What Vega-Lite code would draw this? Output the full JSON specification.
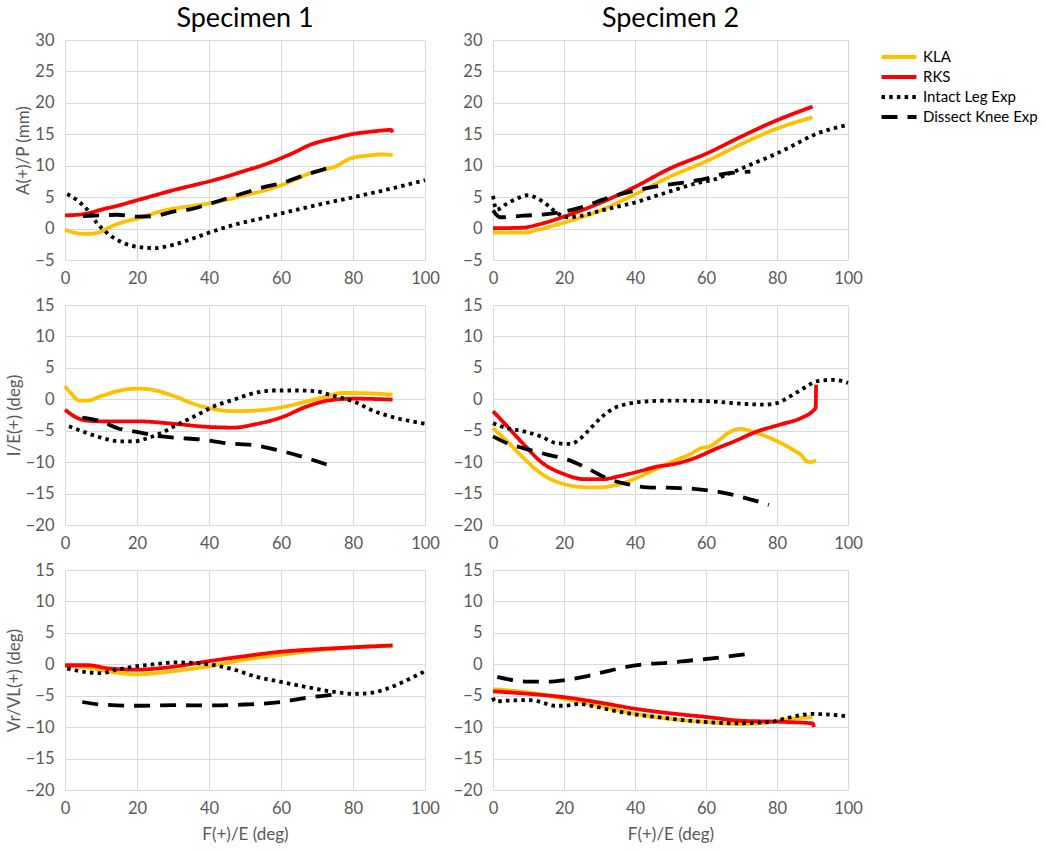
{
  "$schema": "https://vega.github.io/schema/vega-lite/v6.json",
  "background": "white",
  "data": {"values": [
    {"p":"1a","s":"KLA","x":0,"y":-0.2},{"p":"1a","s":"KLA","x":3,"y":-0.7},{"p":"1a","s":"KLA","x":6.2,"y":-0.86},{"p":"1a","s":"KLA","x":10,"y":-0.5},{"p":"1a","s":"KLA","x":12.7,"y":0.3},{"p":"1a","s":"KLA","x":16,"y":1.0},{"p":"1a","s":"KLA","x":20,"y":1.6},{"p":"1a","s":"KLA","x":28.5,"y":3.0},{"p":"1a","s":"KLA","x":34,"y":3.5},{"p":"1a","s":"KLA","x":40,"y":4.0},{"p":"1a","s":"KLA","x":45,"y":4.6},{"p":"1a","s":"KLA","x":50,"y":5.3},{"p":"1a","s":"KLA","x":55,"y":6.0},{"p":"1a","s":"KLA","x":60,"y":6.9},{"p":"1a","s":"KLA","x":64,"y":7.8},{"p":"1a","s":"KLA","x":68,"y":8.8},{"p":"1a","s":"KLA","x":72,"y":9.4},{"p":"1a","s":"KLA","x":75,"y":9.85},{"p":"1a","s":"KLA","x":79.5,"y":11.2},{"p":"1a","s":"KLA","x":84,"y":11.6},{"p":"1a","s":"KLA","x":88,"y":11.8},{"p":"1a","s":"KLA","x":91,"y":11.7},
    {"p":"1a","s":"RKS","x":0,"y":2.1},{"p":"1a","s":"RKS","x":5.3,"y":2.3},{"p":"1a","s":"RKS","x":10,"y":3.0},{"p":"1a","s":"RKS","x":15,"y":3.7},{"p":"1a","s":"RKS","x":20,"y":4.5},{"p":"1a","s":"RKS","x":25,"y":5.3},{"p":"1a","s":"RKS","x":30,"y":6.1},{"p":"1a","s":"RKS","x":35,"y":6.8},{"p":"1a","s":"RKS","x":40,"y":7.5},{"p":"1a","s":"RKS","x":45,"y":8.3},{"p":"1a","s":"RKS","x":50,"y":9.2},{"p":"1a","s":"RKS","x":55,"y":10.1},{"p":"1a","s":"RKS","x":60,"y":11.2},{"p":"1a","s":"RKS","x":64,"y":12.2},{"p":"1a","s":"RKS","x":68,"y":13.3},{"p":"1a","s":"RKS","x":72,"y":14.0},{"p":"1a","s":"RKS","x":75,"y":14.4},{"p":"1a","s":"RKS","x":80,"y":15.05},{"p":"1a","s":"RKS","x":84,"y":15.35},{"p":"1a","s":"RKS","x":88,"y":15.6},{"p":"1a","s":"RKS","x":90.5,"y":15.7},{"p":"1a","s":"RKS","x":91,"y":15.3},
    {"p":"1a","s":"Dissect Knee Exp","x":5,"y":2.0},{"p":"1a","s":"Dissect Knee Exp","x":10,"y":2.1},{"p":"1a","s":"Dissect Knee Exp","x":14.5,"y":2.2},{"p":"1a","s":"Dissect Knee Exp","x":20,"y":1.9},{"p":"1a","s":"Dissect Knee Exp","x":25,"y":2.0},{"p":"1a","s":"Dissect Knee Exp","x":30,"y":2.7},{"p":"1a","s":"Dissect Knee Exp","x":35,"y":3.1},{"p":"1a","s":"Dissect Knee Exp","x":40,"y":3.9},{"p":"1a","s":"Dissect Knee Exp","x":45,"y":4.8},{"p":"1a","s":"Dissect Knee Exp","x":50,"y":5.7},{"p":"1a","s":"Dissect Knee Exp","x":56,"y":6.7},{"p":"1a","s":"Dissect Knee Exp","x":60,"y":7.2},{"p":"1a","s":"Dissect Knee Exp","x":65.5,"y":8.3},{"p":"1a","s":"Dissect Knee Exp","x":70,"y":9.1},{"p":"1a","s":"Dissect Knee Exp","x":75,"y":10.0},
    {"p":"1a","s":"Intact Leg Exp","x":0.6,"y":5.5},{"p":"1a","s":"Intact Leg Exp","x":3.4,"y":4.5},{"p":"1a","s":"Intact Leg Exp","x":6.2,"y":3.0},{"p":"1a","s":"Intact Leg Exp","x":9,"y":0.8},{"p":"1a","s":"Intact Leg Exp","x":11.8,"y":-0.75},{"p":"1a","s":"Intact Leg Exp","x":15.5,"y":-2.1},{"p":"1a","s":"Intact Leg Exp","x":20,"y":-2.9},{"p":"1a","s":"Intact Leg Exp","x":24.7,"y":-3.1},{"p":"1a","s":"Intact Leg Exp","x":30,"y":-2.6},{"p":"1a","s":"Intact Leg Exp","x":35.9,"y":-1.5},{"p":"1a","s":"Intact Leg Exp","x":40,"y":-0.65},{"p":"1a","s":"Intact Leg Exp","x":47,"y":0.6},{"p":"1a","s":"Intact Leg Exp","x":54.4,"y":1.6},{"p":"1a","s":"Intact Leg Exp","x":60,"y":2.4},{"p":"1a","s":"Intact Leg Exp","x":70,"y":3.75},{"p":"1a","s":"Intact Leg Exp","x":79.4,"y":4.9},{"p":"1a","s":"Intact Leg Exp","x":88.7,"y":6.1},{"p":"1a","s":"Intact Leg Exp","x":100,"y":7.7},

    {"p":"2a","s":"KLA","x":0,"y":-0.65},{"p":"2a","s":"KLA","x":8.7,"y":-0.65},{"p":"2a","s":"KLA","x":12.5,"y":-0.2},{"p":"2a","s":"KLA","x":20,"y":0.95},{"p":"2a","s":"KLA","x":29.4,"y":2.7},{"p":"2a","s":"KLA","x":39.7,"y":5.35},{"p":"2a","s":"KLA","x":50,"y":8.3},{"p":"2a","s":"KLA","x":60.4,"y":10.8},{"p":"2a","s":"KLA","x":69.8,"y":13.4},{"p":"2a","s":"KLA","x":79,"y":15.7},{"p":"2a","s":"KLA","x":90,"y":17.7},
    {"p":"2a","s":"RKS","x":0,"y":0.05},{"p":"2a","s":"RKS","x":8.7,"y":0.15},{"p":"2a","s":"RKS","x":12.5,"y":0.6},{"p":"2a","s":"RKS","x":20,"y":1.9},{"p":"2a","s":"RKS","x":29.4,"y":3.9},{"p":"2a","s":"RKS","x":39.7,"y":6.55},{"p":"2a","s":"RKS","x":50,"y":9.6},{"p":"2a","s":"RKS","x":60.4,"y":12.0},{"p":"2a","s":"RKS","x":69.8,"y":14.6},{"p":"2a","s":"RKS","x":79,"y":17.0},{"p":"2a","s":"RKS","x":90,"y":19.4},
    {"p":"2a","s":"Dissect Knee Exp","x":0,"y":2.9},{"p":"2a","s":"Dissect Knee Exp","x":2,"y":1.8},{"p":"2a","s":"Dissect Knee Exp","x":8.7,"y":2.05},{"p":"2a","s":"Dissect Knee Exp","x":15.3,"y":2.3},{"p":"2a","s":"Dissect Knee Exp","x":20,"y":2.7},{"p":"2a","s":"Dissect Knee Exp","x":25.6,"y":3.5},{"p":"2a","s":"Dissect Knee Exp","x":32,"y":4.8},{"p":"2a","s":"Dissect Knee Exp","x":39.7,"y":6.0},{"p":"2a","s":"Dissect Knee Exp","x":46,"y":6.7},{"p":"2a","s":"Dissect Knee Exp","x":55.7,"y":7.5},{"p":"2a","s":"Dissect Knee Exp","x":60.4,"y":8.0},{"p":"2a","s":"Dissect Knee Exp","x":65,"y":8.7},{"p":"2a","s":"Dissect Knee Exp","x":72.5,"y":9.05},
    {"p":"2a","s":"Intact Leg Exp","x":0,"y":5.2},{"p":"2a","s":"Intact Leg Exp","x":1,"y":3.0},{"p":"2a","s":"Intact Leg Exp","x":4,"y":4.0},{"p":"2a","s":"Intact Leg Exp","x":6.9,"y":4.8},{"p":"2a","s":"Intact Leg Exp","x":9.7,"y":5.3},{"p":"2a","s":"Intact Leg Exp","x":12.5,"y":4.8},{"p":"2a","s":"Intact Leg Exp","x":15.3,"y":3.75},{"p":"2a","s":"Intact Leg Exp","x":18,"y":2.5},{"p":"2a","s":"Intact Leg Exp","x":21,"y":1.8},{"p":"2a","s":"Intact Leg Exp","x":24.7,"y":2.0},{"p":"2a","s":"Intact Leg Exp","x":29.4,"y":2.7},{"p":"2a","s":"Intact Leg Exp","x":35,"y":3.5},{"p":"2a","s":"Intact Leg Exp","x":39.7,"y":4.1},{"p":"2a","s":"Intact Leg Exp","x":45.3,"y":5.1},{"p":"2a","s":"Intact Leg Exp","x":50.9,"y":6.1},{"p":"2a","s":"Intact Leg Exp","x":56.6,"y":7.1},{"p":"2a","s":"Intact Leg Exp","x":62.3,"y":7.8},{"p":"2a","s":"Intact Leg Exp","x":67.9,"y":9.05},{"p":"2a","s":"Intact Leg Exp","x":73.5,"y":10.4},{"p":"2a","s":"Intact Leg Exp","x":79,"y":11.7},{"p":"2a","s":"Intact Leg Exp","x":84.8,"y":13.3},{"p":"2a","s":"Intact Leg Exp","x":90.4,"y":14.9},{"p":"2a","s":"Intact Leg Exp","x":100,"y":16.5},

    {"p":"1b","s":"KLA","x":0,"y":2.1},{"p":"1b","s":"KLA","x":2,"y":0.75},{"p":"1b","s":"KLA","x":3.9,"y":-0.2},{"p":"1b","s":"KLA","x":6.2,"y":-0.2},{"p":"1b","s":"KLA","x":10,"y":0.5},{"p":"1b","s":"KLA","x":14.6,"y":1.3},{"p":"1b","s":"KLA","x":20,"y":1.7},{"p":"1b","s":"KLA","x":23.8,"y":1.55},{"p":"1b","s":"KLA","x":30.3,"y":0.5},{"p":"1b","s":"KLA","x":35.9,"y":-0.75},{"p":"1b","s":"KLA","x":40,"y":-1.4},{"p":"1b","s":"KLA","x":47,"y":-1.9},{"p":"1b","s":"KLA","x":52.6,"y":-1.8},{"p":"1b","s":"KLA","x":60,"y":-1.3},{"p":"1b","s":"KLA","x":67.4,"y":-0.3},{"p":"1b","s":"KLA","x":73,"y":0.5},{"p":"1b","s":"KLA","x":76.6,"y":1.0},{"p":"1b","s":"KLA","x":80,"y":1.0},{"p":"1b","s":"KLA","x":91,"y":0.75},
    {"p":"1b","s":"RKS","x":0,"y":-1.65},{"p":"1b","s":"RKS","x":2.5,"y":-2.7},{"p":"1b","s":"RKS","x":6.2,"y":-3.4},{"p":"1b","s":"RKS","x":10,"y":-3.5},{"p":"1b","s":"RKS","x":20,"y":-3.5},{"p":"1b","s":"RKS","x":30.3,"y":-3.9},{"p":"1b","s":"RKS","x":40,"y":-4.4},{"p":"1b","s":"RKS","x":47,"y":-4.5},{"p":"1b","s":"RKS","x":52.6,"y":-4.0},{"p":"1b","s":"RKS","x":60,"y":-2.9},{"p":"1b","s":"RKS","x":67.4,"y":-1.1},{"p":"1b","s":"RKS","x":73,"y":-0.2},{"p":"1b","s":"RKS","x":80,"y":0.1},{"p":"1b","s":"RKS","x":91,"y":-0.05},
    {"p":"1b","s":"Dissect Knee Exp","x":4.8,"y":-2.9},{"p":"1b","s":"Dissect Knee Exp","x":10,"y":-3.5},{"p":"1b","s":"Dissect Knee Exp","x":14.6,"y":-4.6},{"p":"1b","s":"Dissect Knee Exp","x":20,"y":-5.2},{"p":"1b","s":"Dissect Knee Exp","x":25.7,"y":-5.8},{"p":"1b","s":"Dissect Knee Exp","x":30.3,"y":-6.1},{"p":"1b","s":"Dissect Knee Exp","x":37.7,"y":-6.4},{"p":"1b","s":"Dissect Knee Exp","x":45,"y":-7.0},{"p":"1b","s":"Dissect Knee Exp","x":52.6,"y":-7.3},{"p":"1b","s":"Dissect Knee Exp","x":60,"y":-8.2},{"p":"1b","s":"Dissect Knee Exp","x":67.4,"y":-9.4},{"p":"1b","s":"Dissect Knee Exp","x":74.8,"y":-10.8},
    {"p":"1b","s":"Intact Leg Exp","x":1.1,"y":-4.3},{"p":"1b","s":"Intact Leg Exp","x":5.3,"y":-5.2},{"p":"1b","s":"Intact Leg Exp","x":10,"y":-6.1},{"p":"1b","s":"Intact Leg Exp","x":15.5,"y":-6.7},{"p":"1b","s":"Intact Leg Exp","x":19.2,"y":-6.7},{"p":"1b","s":"Intact Leg Exp","x":22.9,"y":-6.2},{"p":"1b","s":"Intact Leg Exp","x":26.6,"y":-5.4},{"p":"1b","s":"Intact Leg Exp","x":30.3,"y":-4.3},{"p":"1b","s":"Intact Leg Exp","x":34,"y":-3.25},{"p":"1b","s":"Intact Leg Exp","x":37.7,"y":-2.2},{"p":"1b","s":"Intact Leg Exp","x":41.4,"y":-1.1},{"p":"1b","s":"Intact Leg Exp","x":47,"y":-0.05},{"p":"1b","s":"Intact Leg Exp","x":52.6,"y":1.0},{"p":"1b","s":"Intact Leg Exp","x":58.1,"y":1.4},{"p":"1b","s":"Intact Leg Exp","x":63.7,"y":1.4},{"p":"1b","s":"Intact Leg Exp","x":69.2,"y":1.3},{"p":"1b","s":"Intact Leg Exp","x":74.8,"y":0.5},{"p":"1b","s":"Intact Leg Exp","x":80,"y":-0.3},{"p":"1b","s":"Intact Leg Exp","x":85.9,"y":-1.9},{"p":"1b","s":"Intact Leg Exp","x":91.5,"y":-2.9},{"p":"1b","s":"Intact Leg Exp","x":100,"y":-3.9},

    {"p":"2b","s":"KLA","x":0,"y":-4.6},{"p":"2b","s":"KLA","x":4,"y":-6.7},{"p":"2b","s":"KLA","x":8.7,"y":-9.4},{"p":"2b","s":"KLA","x":13.4,"y":-11.75},{"p":"2b","s":"KLA","x":20,"y":-13.5},{"p":"2b","s":"KLA","x":26.6,"y":-14.0},{"p":"2b","s":"KLA","x":30.3,"y":-14.0},{"p":"2b","s":"KLA","x":35,"y":-13.6},{"p":"2b","s":"KLA","x":39.7,"y":-12.7},{"p":"2b","s":"KLA","x":44.4,"y":-11.5},{"p":"2b","s":"KLA","x":51,"y":-9.8},{"p":"2b","s":"KLA","x":56,"y":-8.6},{"p":"2b","s":"KLA","x":58.5,"y":-7.8},{"p":"2b","s":"KLA","x":61,"y":-7.5},{"p":"2b","s":"KLA","x":63.2,"y":-6.7},{"p":"2b","s":"KLA","x":67,"y":-5.1},{"p":"2b","s":"KLA","x":69.8,"y":-4.7},{"p":"2b","s":"KLA","x":73.5,"y":-5.2},{"p":"2b","s":"KLA","x":78.2,"y":-6.2},{"p":"2b","s":"KLA","x":82.9,"y":-7.5},{"p":"2b","s":"KLA","x":85,"y":-8.2},{"p":"2b","s":"KLA","x":86.7,"y":-8.8},{"p":"2b","s":"KLA","x":88.5,"y":-9.9},{"p":"2b","s":"KLA","x":89.5,"y":-10.0},{"p":"2b","s":"KLA","x":91,"y":-9.7},
    {"p":"2b","s":"RKS","x":0,"y":-1.9},{"p":"2b","s":"RKS","x":4,"y":-4.3},{"p":"2b","s":"RKS","x":8.7,"y":-7.2},{"p":"2b","s":"RKS","x":13.4,"y":-9.9},{"p":"2b","s":"RKS","x":20,"y":-11.9},{"p":"2b","s":"RKS","x":25.6,"y":-12.7},{"p":"2b","s":"RKS","x":31.3,"y":-12.7},{"p":"2b","s":"RKS","x":35,"y":-12.3},{"p":"2b","s":"RKS","x":41.6,"y":-11.4},{"p":"2b","s":"RKS","x":46.3,"y":-10.7},{"p":"2b","s":"RKS","x":51,"y":-10.3},{"p":"2b","s":"RKS","x":56.6,"y":-9.4},{"p":"2b","s":"RKS","x":62.3,"y":-8.0},{"p":"2b","s":"RKS","x":67.9,"y":-6.7},{"p":"2b","s":"RKS","x":74.5,"y":-5.1},{"p":"2b","s":"RKS","x":81,"y":-4.0},{"p":"2b","s":"RKS","x":86.7,"y":-3.0},{"p":"2b","s":"RKS","x":90,"y":-1.9},{"p":"2b","s":"RKS","x":90.9,"y":-1.3},{"p":"2b","s":"RKS","x":91,"y":2.3},
    {"p":"2b","s":"Dissect Knee Exp","x":0,"y":-5.9},{"p":"2b","s":"Dissect Knee Exp","x":4,"y":-7.0},{"p":"2b","s":"Dissect Knee Exp","x":8.7,"y":-7.8},{"p":"2b","s":"Dissect Knee Exp","x":15.3,"y":-8.8},{"p":"2b","s":"Dissect Knee Exp","x":21,"y":-9.6},{"p":"2b","s":"Dissect Knee Exp","x":26.6,"y":-11.0},{"p":"2b","s":"Dissect Knee Exp","x":32.2,"y":-12.6},{"p":"2b","s":"Dissect Knee Exp","x":37.8,"y":-13.5},{"p":"2b","s":"Dissect Knee Exp","x":43.5,"y":-14.0},{"p":"2b","s":"Dissect Knee Exp","x":51,"y":-14.1},{"p":"2b","s":"Dissect Knee Exp","x":56.6,"y":-14.25},{"p":"2b","s":"Dissect Knee Exp","x":63.2,"y":-14.7},{"p":"2b","s":"Dissect Knee Exp","x":69.8,"y":-15.5},{"p":"2b","s":"Dissect Knee Exp","x":77.7,"y":-16.8},
    {"p":"2b","s":"Intact Leg Exp","x":0,"y":-3.8},{"p":"2b","s":"Intact Leg Exp","x":4,"y":-4.6},{"p":"2b","s":"Intact Leg Exp","x":8.7,"y":-5.1},{"p":"2b","s":"Intact Leg Exp","x":13.4,"y":-5.9},{"p":"2b","s":"Intact Leg Exp","x":18.1,"y":-7.0},{"p":"2b","s":"Intact Leg Exp","x":21.9,"y":-7.1},{"p":"2b","s":"Intact Leg Exp","x":24.7,"y":-6.2},{"p":"2b","s":"Intact Leg Exp","x":27.5,"y":-4.6},{"p":"2b","s":"Intact Leg Exp","x":30.3,"y":-3.0},{"p":"2b","s":"Intact Leg Exp","x":34.1,"y":-1.4},{"p":"2b","s":"Intact Leg Exp","x":37.8,"y":-0.75},{"p":"2b","s":"Intact Leg Exp","x":41.6,"y":-0.4},{"p":"2b","s":"Intact Leg Exp","x":51,"y":-0.2},{"p":"2b","s":"Intact Leg Exp","x":60.4,"y":-0.3},{"p":"2b","s":"Intact Leg Exp","x":69.8,"y":-0.7},{"p":"2b","s":"Intact Leg Exp","x":76.4,"y":-0.85},{"p":"2b","s":"Intact Leg Exp","x":80,"y":-0.6},{"p":"2b","s":"Intact Leg Exp","x":83.8,"y":0.5},{"p":"2b","s":"Intact Leg Exp","x":87.6,"y":1.8},{"p":"2b","s":"Intact Leg Exp","x":91.4,"y":2.9},{"p":"2b","s":"Intact Leg Exp","x":96,"y":3.1},{"p":"2b","s":"Intact Leg Exp","x":100,"y":2.6},

    {"p":"1c","s":"KLA","x":0,"y":-0.3},{"p":"1c","s":"KLA","x":6.2,"y":-0.5},{"p":"1c","s":"KLA","x":12.7,"y":-1.2},{"p":"1c","s":"KLA","x":20,"y":-1.6},{"p":"1c","s":"KLA","x":28.5,"y":-1.2},{"p":"1c","s":"KLA","x":40,"y":-0.3},{"p":"1c","s":"KLA","x":50,"y":0.75},{"p":"1c","s":"KLA","x":60,"y":1.5},{"p":"1c","s":"KLA","x":70,"y":2.2},{"p":"1c","s":"KLA","x":80,"y":2.7},{"p":"1c","s":"KLA","x":91,"y":2.95},
    {"p":"1c","s":"RKS","x":0,"y":-0.15},{"p":"1c","s":"RKS","x":6.2,"y":-0.15},{"p":"1c","s":"RKS","x":12.7,"y":-0.7},{"p":"1c","s":"RKS","x":20,"y":-0.85},{"p":"1c","s":"RKS","x":28.5,"y":-0.5},{"p":"1c","s":"RKS","x":40,"y":0.5},{"p":"1c","s":"RKS","x":50,"y":1.3},{"p":"1c","s":"RKS","x":60,"y":2.0},{"p":"1c","s":"RKS","x":70,"y":2.4},{"p":"1c","s":"RKS","x":80,"y":2.7},{"p":"1c","s":"RKS","x":91,"y":3.0},
    {"p":"1c","s":"Dissect Knee Exp","x":4.8,"y":-6.0},{"p":"1c","s":"Dissect Knee Exp","x":10,"y":-6.4},{"p":"1c","s":"Dissect Knee Exp","x":20,"y":-6.6},{"p":"1c","s":"Dissect Knee Exp","x":30.3,"y":-6.5},{"p":"1c","s":"Dissect Knee Exp","x":40,"y":-6.55},{"p":"1c","s":"Dissect Knee Exp","x":50,"y":-6.4},{"p":"1c","s":"Dissect Knee Exp","x":60,"y":-6.0},{"p":"1c","s":"Dissect Knee Exp","x":67.4,"y":-5.3},{"p":"1c","s":"Dissect Knee Exp","x":74.8,"y":-4.8},{"p":"1c","s":"Dissect Knee Exp","x":76,"y":-4.7},
    {"p":"1c","s":"Intact Leg Exp","x":0.6,"y":-0.7},{"p":"1c","s":"Intact Leg Exp","x":5.3,"y":-1.2},{"p":"1c","s":"Intact Leg Exp","x":10,"y":-1.4},{"p":"1c","s":"Intact Leg Exp","x":14.6,"y":-0.85},{"p":"1c","s":"Intact Leg Exp","x":20,"y":-0.3},{"p":"1c","s":"Intact Leg Exp","x":25.7,"y":0.05},{"p":"1c","s":"Intact Leg Exp","x":30.3,"y":0.3},{"p":"1c","s":"Intact Leg Exp","x":35.9,"y":0.2},{"p":"1c","s":"Intact Leg Exp","x":41.4,"y":-0.15},{"p":"1c","s":"Intact Leg Exp","x":47,"y":-0.85},{"p":"1c","s":"Intact Leg Exp","x":52.6,"y":-1.9},{"p":"1c","s":"Intact Leg Exp","x":60,"y":-2.8},{"p":"1c","s":"Intact Leg Exp","x":67.4,"y":-3.65},{"p":"1c","s":"Intact Leg Exp","x":74.8,"y":-4.4},{"p":"1c","s":"Intact Leg Exp","x":80,"y":-4.7},{"p":"1c","s":"Intact Leg Exp","x":85,"y":-4.55},{"p":"1c","s":"Intact Leg Exp","x":89.6,"y":-3.85},{"p":"1c","s":"Intact Leg Exp","x":94.3,"y":-2.7},{"p":"1c","s":"Intact Leg Exp","x":100,"y":-1.1},

    {"p":"2c","s":"KLA","x":0,"y":-3.95},{"p":"2c","s":"KLA","x":10,"y":-4.5},{"p":"2c","s":"KLA","x":20.3,"y":-5.5},{"p":"2c","s":"KLA","x":29.6,"y":-6.6},{"p":"2c","s":"KLA","x":40.3,"y":-7.9},{"p":"2c","s":"KLA","x":50,"y":-8.7},{"p":"2c","s":"KLA","x":60.3,"y":-9.2},{"p":"2c","s":"KLA","x":70.5,"y":-9.5},{"p":"2c","s":"KLA","x":78,"y":-9.2},{"p":"2c","s":"KLA","x":83.5,"y":-8.7},{"p":"2c","s":"KLA","x":90,"y":-8.4},
    {"p":"2c","s":"RKS","x":0,"y":-4.3},{"p":"2c","s":"RKS","x":10,"y":-4.7},{"p":"2c","s":"RKS","x":20.3,"y":-5.25},{"p":"2c","s":"RKS","x":29.6,"y":-6.05},{"p":"2c","s":"RKS","x":40.3,"y":-7.1},{"p":"2c","s":"RKS","x":50,"y":-7.8},{"p":"2c","s":"RKS","x":60.3,"y":-8.4},{"p":"2c","s":"RKS","x":70.5,"y":-9.0},{"p":"2c","s":"RKS","x":78,"y":-9.1},{"p":"2c","s":"RKS","x":83.5,"y":-9.2},{"p":"2c","s":"RKS","x":90,"y":-9.4},{"p":"2c","s":"RKS","x":90.4,"y":-10.0},
    {"p":"2c","s":"Dissect Knee Exp","x":1.2,"y":-2.0},{"p":"2c","s":"Dissect Knee Exp","x":5.4,"y":-2.5},{"p":"2c","s":"Dissect Knee Exp","x":10,"y":-2.75},{"p":"2c","s":"Dissect Knee Exp","x":15.6,"y":-2.75},{"p":"2c","s":"Dissect Knee Exp","x":20.3,"y":-2.5},{"p":"2c","s":"Dissect Knee Exp","x":25.9,"y":-1.95},{"p":"2c","s":"Dissect Knee Exp","x":31.4,"y":-1.2},{"p":"2c","s":"Dissect Knee Exp","x":37,"y":-0.5},{"p":"2c","s":"Dissect Knee Exp","x":42.6,"y":0.0},{"p":"2c","s":"Dissect Knee Exp","x":50,"y":0.25},{"p":"2c","s":"Dissect Knee Exp","x":55.6,"y":0.6},{"p":"2c","s":"Dissect Knee Exp","x":61.2,"y":0.9},{"p":"2c","s":"Dissect Knee Exp","x":66.8,"y":1.3},{"p":"2c","s":"Dissect Knee Exp","x":72.4,"y":1.7},
    {"p":"2c","s":"Intact Leg Exp","x":0,"y":-5.3},{"p":"2c","s":"Intact Leg Exp","x":0.5,"y":-5.9},{"p":"2c","s":"Intact Leg Exp","x":3.5,"y":-5.8},{"p":"2c","s":"Intact Leg Exp","x":10,"y":-5.7},{"p":"2c","s":"Intact Leg Exp","x":12.8,"y":-5.9},{"p":"2c","s":"Intact Leg Exp","x":17.5,"y":-6.6},{"p":"2c","s":"Intact Leg Exp","x":20.3,"y":-6.6},{"p":"2c","s":"Intact Leg Exp","x":24,"y":-6.3},{"p":"2c","s":"Intact Leg Exp","x":27.7,"y":-6.6},{"p":"2c","s":"Intact Leg Exp","x":33.3,"y":-7.3},{"p":"2c","s":"Intact Leg Exp","x":40.3,"y":-8.0},{"p":"2c","s":"Intact Leg Exp","x":46.3,"y":-8.4},{"p":"2c","s":"Intact Leg Exp","x":54.7,"y":-8.95},{"p":"2c","s":"Intact Leg Exp","x":60.3,"y":-9.2},{"p":"2c","s":"Intact Leg Exp","x":68.7,"y":-9.4},{"p":"2c","s":"Intact Leg Exp","x":74.3,"y":-9.3},{"p":"2c","s":"Intact Leg Exp","x":78,"y":-9.2},{"p":"2c","s":"Intact Leg Exp","x":81.9,"y":-8.7},{"p":"2c","s":"Intact Leg Exp","x":85.6,"y":-8.2},{"p":"2c","s":"Intact Leg Exp","x":90,"y":-7.9},{"p":"2c","s":"Intact Leg Exp","x":94.7,"y":-8.0},{"p":"2c","s":"Intact Leg Exp","x":100,"y":-8.3}
  ]},

  "columns": 2,
  "spacing": {"row": 10, "column": 13},
  "concat": [
    {
      "width": 360, "height": 220,
      "title": {"text": "Specimen 1"},
      "transform": [{"filter": "datum.p == '1a'"}],
      "mark": {"type": "line", "strokeWidth": 3.8, "strokeCap": "butt", "interpolate": "monotone"},
      "encoding": {
        "x": {"field": "x", "type": "quantitative", "scale": {"domain": [0, 100]}, "axis": {"values": [0, 20, 40, 60, 80, 100], "title": null}},
        "y": {"field": "y", "type": "quantitative", "scale": {"domain": [-5, 30]}, "axis": {"values": [-5, 0, 5, 10, 15, 20, 25, 30], "title": "A(+)/P (mm)"}},
        "color": {"field": "s", "type": "nominal", "scale": {"domain": ["KLA", "RKS", "Intact Leg Exp", "Dissect Knee Exp"], "range": ["#FFC000", "#FF0000", "#000000", "#000000"]}},
        "strokeDash": {"field": "s", "type": "nominal", "scale": {"domain": ["KLA", "RKS", "Intact Leg Exp", "Dissect Knee Exp"], "range": [[1, 0], [1, 0], [3.5, 4.2], [16, 10]]}}
      }
    },
    {
      "width": 355, "height": 220,
      "title": {"text": "Specimen 2"},
      "transform": [{"filter": "datum.p == '2a'"}],
      "mark": {"type": "line", "strokeWidth": 3.8, "strokeCap": "butt", "interpolate": "monotone"},
      "encoding": {
        "x": {"field": "x", "type": "quantitative", "scale": {"domain": [0, 100]}, "axis": {"values": [0, 20, 40, 60, 80, 100], "title": null}},
        "y": {"field": "y", "type": "quantitative", "scale": {"domain": [-5, 30]}, "axis": {"values": [-5, 0, 5, 10, 15, 20, 25, 30], "title": null}},
        "color": {"field": "s", "type": "nominal", "scale": {"domain": ["KLA", "RKS", "Intact Leg Exp", "Dissect Knee Exp"], "range": ["#FFC000", "#FF0000", "#000000", "#000000"]}},
        "strokeDash": {"field": "s", "type": "nominal", "scale": {"domain": ["KLA", "RKS", "Intact Leg Exp", "Dissect Knee Exp"], "range": [[1, 0], [1, 0], [3.5, 4.2], [16, 10]]}}
      }
    },
    {
      "width": 360, "height": 220,
      "transform": [{"filter": "datum.p == '1b'"}],
      "mark": {"type": "line", "strokeWidth": 3.8, "strokeCap": "butt", "interpolate": "monotone"},
      "encoding": {
        "x": {"field": "x", "type": "quantitative", "scale": {"domain": [0, 100]}, "axis": {"values": [0, 20, 40, 60, 80, 100], "title": null}},
        "y": {"field": "y", "type": "quantitative", "scale": {"domain": [-20, 15]}, "axis": {"values": [-20, -15, -10, -5, 0, 5, 10, 15], "title": "I/E(+) (deg)"}},
        "color": {"field": "s", "type": "nominal", "scale": {"domain": ["KLA", "RKS", "Intact Leg Exp", "Dissect Knee Exp"], "range": ["#FFC000", "#FF0000", "#000000", "#000000"]}},
        "strokeDash": {"field": "s", "type": "nominal", "scale": {"domain": ["KLA", "RKS", "Intact Leg Exp", "Dissect Knee Exp"], "range": [[1, 0], [1, 0], [3.5, 4.2], [16, 10]]}}
      }
    },
    {
      "width": 355, "height": 220,
      "transform": [{"filter": "datum.p == '2b'"}],
      "mark": {"type": "line", "strokeWidth": 3.8, "strokeCap": "butt", "interpolate": "monotone"},
      "encoding": {
        "x": {"field": "x", "type": "quantitative", "scale": {"domain": [0, 100]}, "axis": {"values": [0, 20, 40, 60, 80, 100], "title": null}},
        "y": {"field": "y", "type": "quantitative", "scale": {"domain": [-20, 15]}, "axis": {"values": [-20, -15, -10, -5, 0, 5, 10, 15], "title": null}},
        "color": {"field": "s", "type": "nominal", "scale": {"domain": ["KLA", "RKS", "Intact Leg Exp", "Dissect Knee Exp"], "range": ["#FFC000", "#FF0000", "#000000", "#000000"]}},
        "strokeDash": {"field": "s", "type": "nominal", "scale": {"domain": ["KLA", "RKS", "Intact Leg Exp", "Dissect Knee Exp"], "range": [[1, 0], [1, 0], [3.5, 4.2], [16, 10]]}}
      }
    },
    {
      "width": 360, "height": 220,
      "transform": [{"filter": "datum.p == '1c'"}],
      "mark": {"type": "line", "strokeWidth": 3.8, "strokeCap": "butt", "interpolate": "monotone"},
      "encoding": {
        "x": {"field": "x", "type": "quantitative", "scale": {"domain": [0, 100]}, "axis": {"values": [0, 20, 40, 60, 80, 100], "title": "F(+)/E (deg)"}},
        "y": {"field": "y", "type": "quantitative", "scale": {"domain": [-20, 15]}, "axis": {"values": [-20, -15, -10, -5, 0, 5, 10, 15], "title": "Vr/VL(+) (deg)"}},
        "color": {"field": "s", "type": "nominal", "scale": {"domain": ["KLA", "RKS", "Intact Leg Exp", "Dissect Knee Exp"], "range": ["#FFC000", "#FF0000", "#000000", "#000000"]}},
        "strokeDash": {"field": "s", "type": "nominal", "scale": {"domain": ["KLA", "RKS", "Intact Leg Exp", "Dissect Knee Exp"], "range": [[1, 0], [1, 0], [3.5, 4.2], [16, 10]]}}
      }
    },
    {
      "width": 355, "height": 220,
      "transform": [{"filter": "datum.p == '2c'"}],
      "mark": {"type": "line", "strokeWidth": 3.8, "strokeCap": "butt", "interpolate": "monotone"},
      "encoding": {
        "x": {"field": "x", "type": "quantitative", "scale": {"domain": [0, 100]}, "axis": {"values": [0, 20, 40, 60, 80, 100], "title": "F(+)/E (deg)"}},
        "y": {"field": "y", "type": "quantitative", "scale": {"domain": [-20, 15]}, "axis": {"values": [-20, -15, -10, -5, 0, 5, 10, 15], "title": null}},
        "color": {"field": "s", "type": "nominal", "scale": {"domain": ["KLA", "RKS", "Intact Leg Exp", "Dissect Knee Exp"], "range": ["#FFC000", "#FF0000", "#000000", "#000000"]}},
        "strokeDash": {"field": "s", "type": "nominal", "scale": {"domain": ["KLA", "RKS", "Intact Leg Exp", "Dissect Knee Exp"], "range": [[1, 0], [1, 0], [3.5, 4.2], [16, 10]]}}
      }
    }
  ],
  "resolve": {
    "scale": {"color": "shared", "strokeDash": "shared"},
    "legend": {"color": "shared", "strokeDash": "shared"}
  },
  "config": {
    "font": "Lato",
    "view": {"stroke": null},
    "title": {"fontSize": 27, "fontWeight": "normal", "color": "#000000", "anchor": "middle", "offset": -1},
    "axis": {
      "domain": false,
      "ticks": false,
      "gridColor": "#d9d9d9",
      "gridWidth": 1,
      "labelFontSize": 16.5,
      "labelColor": "#595959",
      "titleFontSize": 17,
      "titleFontWeight": "normal",
      "titleColor": "#595959"
    },
    "axisX": {"labelFlush": false, "labelPadding": 10, "titlePadding": 10},
    "axisY": {"labelPadding": 11, "titlePadding": 2},
    "legend": {
      "title": null,
      "orient": "right",
      "offset": 19,
      "padding": 5,
      "labelFontSize": 15,
      "labelColor": "#000000",
      "labelOffset": 12,
      "symbolType": "M-1.75,0H1.75",
      "symbolStrokeWidth": 3.8,
      "symbolSize": 400,
      "rowPadding": 0
    }
  }
}
